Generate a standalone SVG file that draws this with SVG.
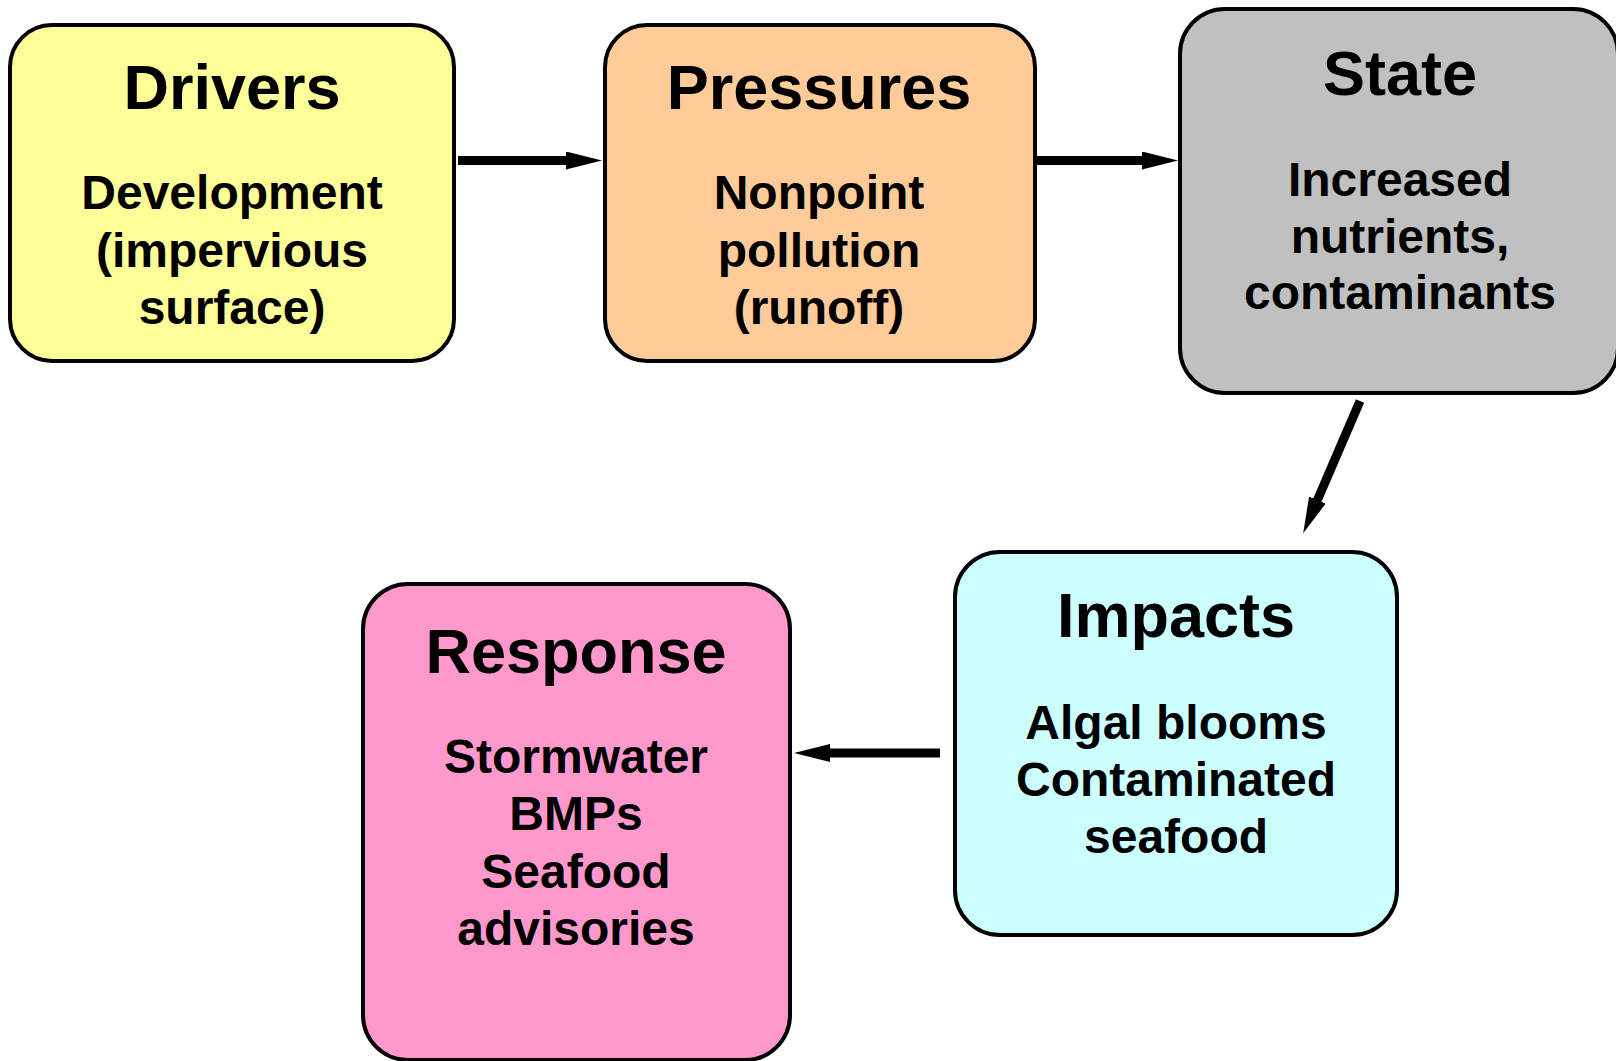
<svg xmlns="http://www.w3.org/2000/svg" width="1616" height="1061" viewBox="0 0 1616 1061">
<defs>
<marker id="ah" markerUnits="userSpaceOnUse" markerWidth="38" markerHeight="20" refX="1" refY="9" orient="auto">
<path d="M0,0 L36,9 L0,18 Z" fill="#000"/>
</marker>
<style>
.box{stroke:#000;stroke-width:4}
.t{font-family:"Liberation Sans",Arial,sans-serif;font-weight:bold;fill:#000;text-anchor:middle}
.h{font-size:63px}
.b{font-size:48px}
.c{stroke:#000;stroke-width:9;fill:none}
</style>
</defs>
<rect width="1616" height="1061" fill="#fff"/>
<g id="drivers">
<rect class="box" x="10" y="25" width="444" height="336" rx="42" fill="#FFFF99"/>
<text class="t h" x="232" y="109">Drivers</text>
<text class="t b" x="232" y="209">Development</text>
<text class="t b" x="232" y="267">(impervious</text>
<text class="t b" x="232" y="324">surface)</text>
</g>
<g id="pressures">
<rect class="box" x="605" y="25" width="430" height="336" rx="42" fill="#FFCC99"/>
<text class="t h" x="819" y="109">Pressures</text>
<text class="t b" x="819" y="209">Nonpoint</text>
<text class="t b" x="819" y="267">pollution</text>
<text class="t b" x="819" y="324">(runoff)</text>
</g>
<g id="state">
<rect class="box" x="1180" y="9" width="438" height="384" rx="45" fill="#C0C0C0"/>
<text class="t h" x="1400" y="95">State</text>
<text class="t b" x="1400" y="196">Increased</text>
<text class="t b" x="1400" y="253">nutrients,</text>
<text class="t b" x="1400" y="309">contaminants</text>
</g>
<g id="impacts">
<rect class="box" x="955" y="552" width="442" height="383" rx="45" fill="#CCFFFF"/>
<text class="t h" x="1176" y="637">Impacts</text>
<text class="t b" x="1176" y="739">Algal blooms</text>
<text class="t b" x="1176" y="796">Contaminated</text>
<text class="t b" x="1176" y="853">seafood</text>
</g>
<g id="response">
<rect class="box" x="363" y="584" width="427" height="476" rx="45" fill="#FF99CC"/>
<text class="t h" x="576" y="673">Response</text>
<text class="t b" x="576" y="773">Stormwater</text>
<text class="t b" x="576" y="830">BMPs</text>
<text class="t b" x="576" y="888">Seafood</text>
<text class="t b" x="576" y="945">advisories</text>
</g>
<g id="connectors">
<line class="c" x1="458" y1="160.5" x2="567" y2="160.5" marker-end="url(#ah)"/>
<line class="c" x1="1037" y1="160.5" x2="1143" y2="160.5" marker-end="url(#ah)"/>
<line class="c" x1="1360" y1="401" x2="1317" y2="501" marker-end="url(#ah)"/>
<line class="c" x1="940" y1="753" x2="829" y2="753" marker-end="url(#ah)"/>
</g>
</svg>
